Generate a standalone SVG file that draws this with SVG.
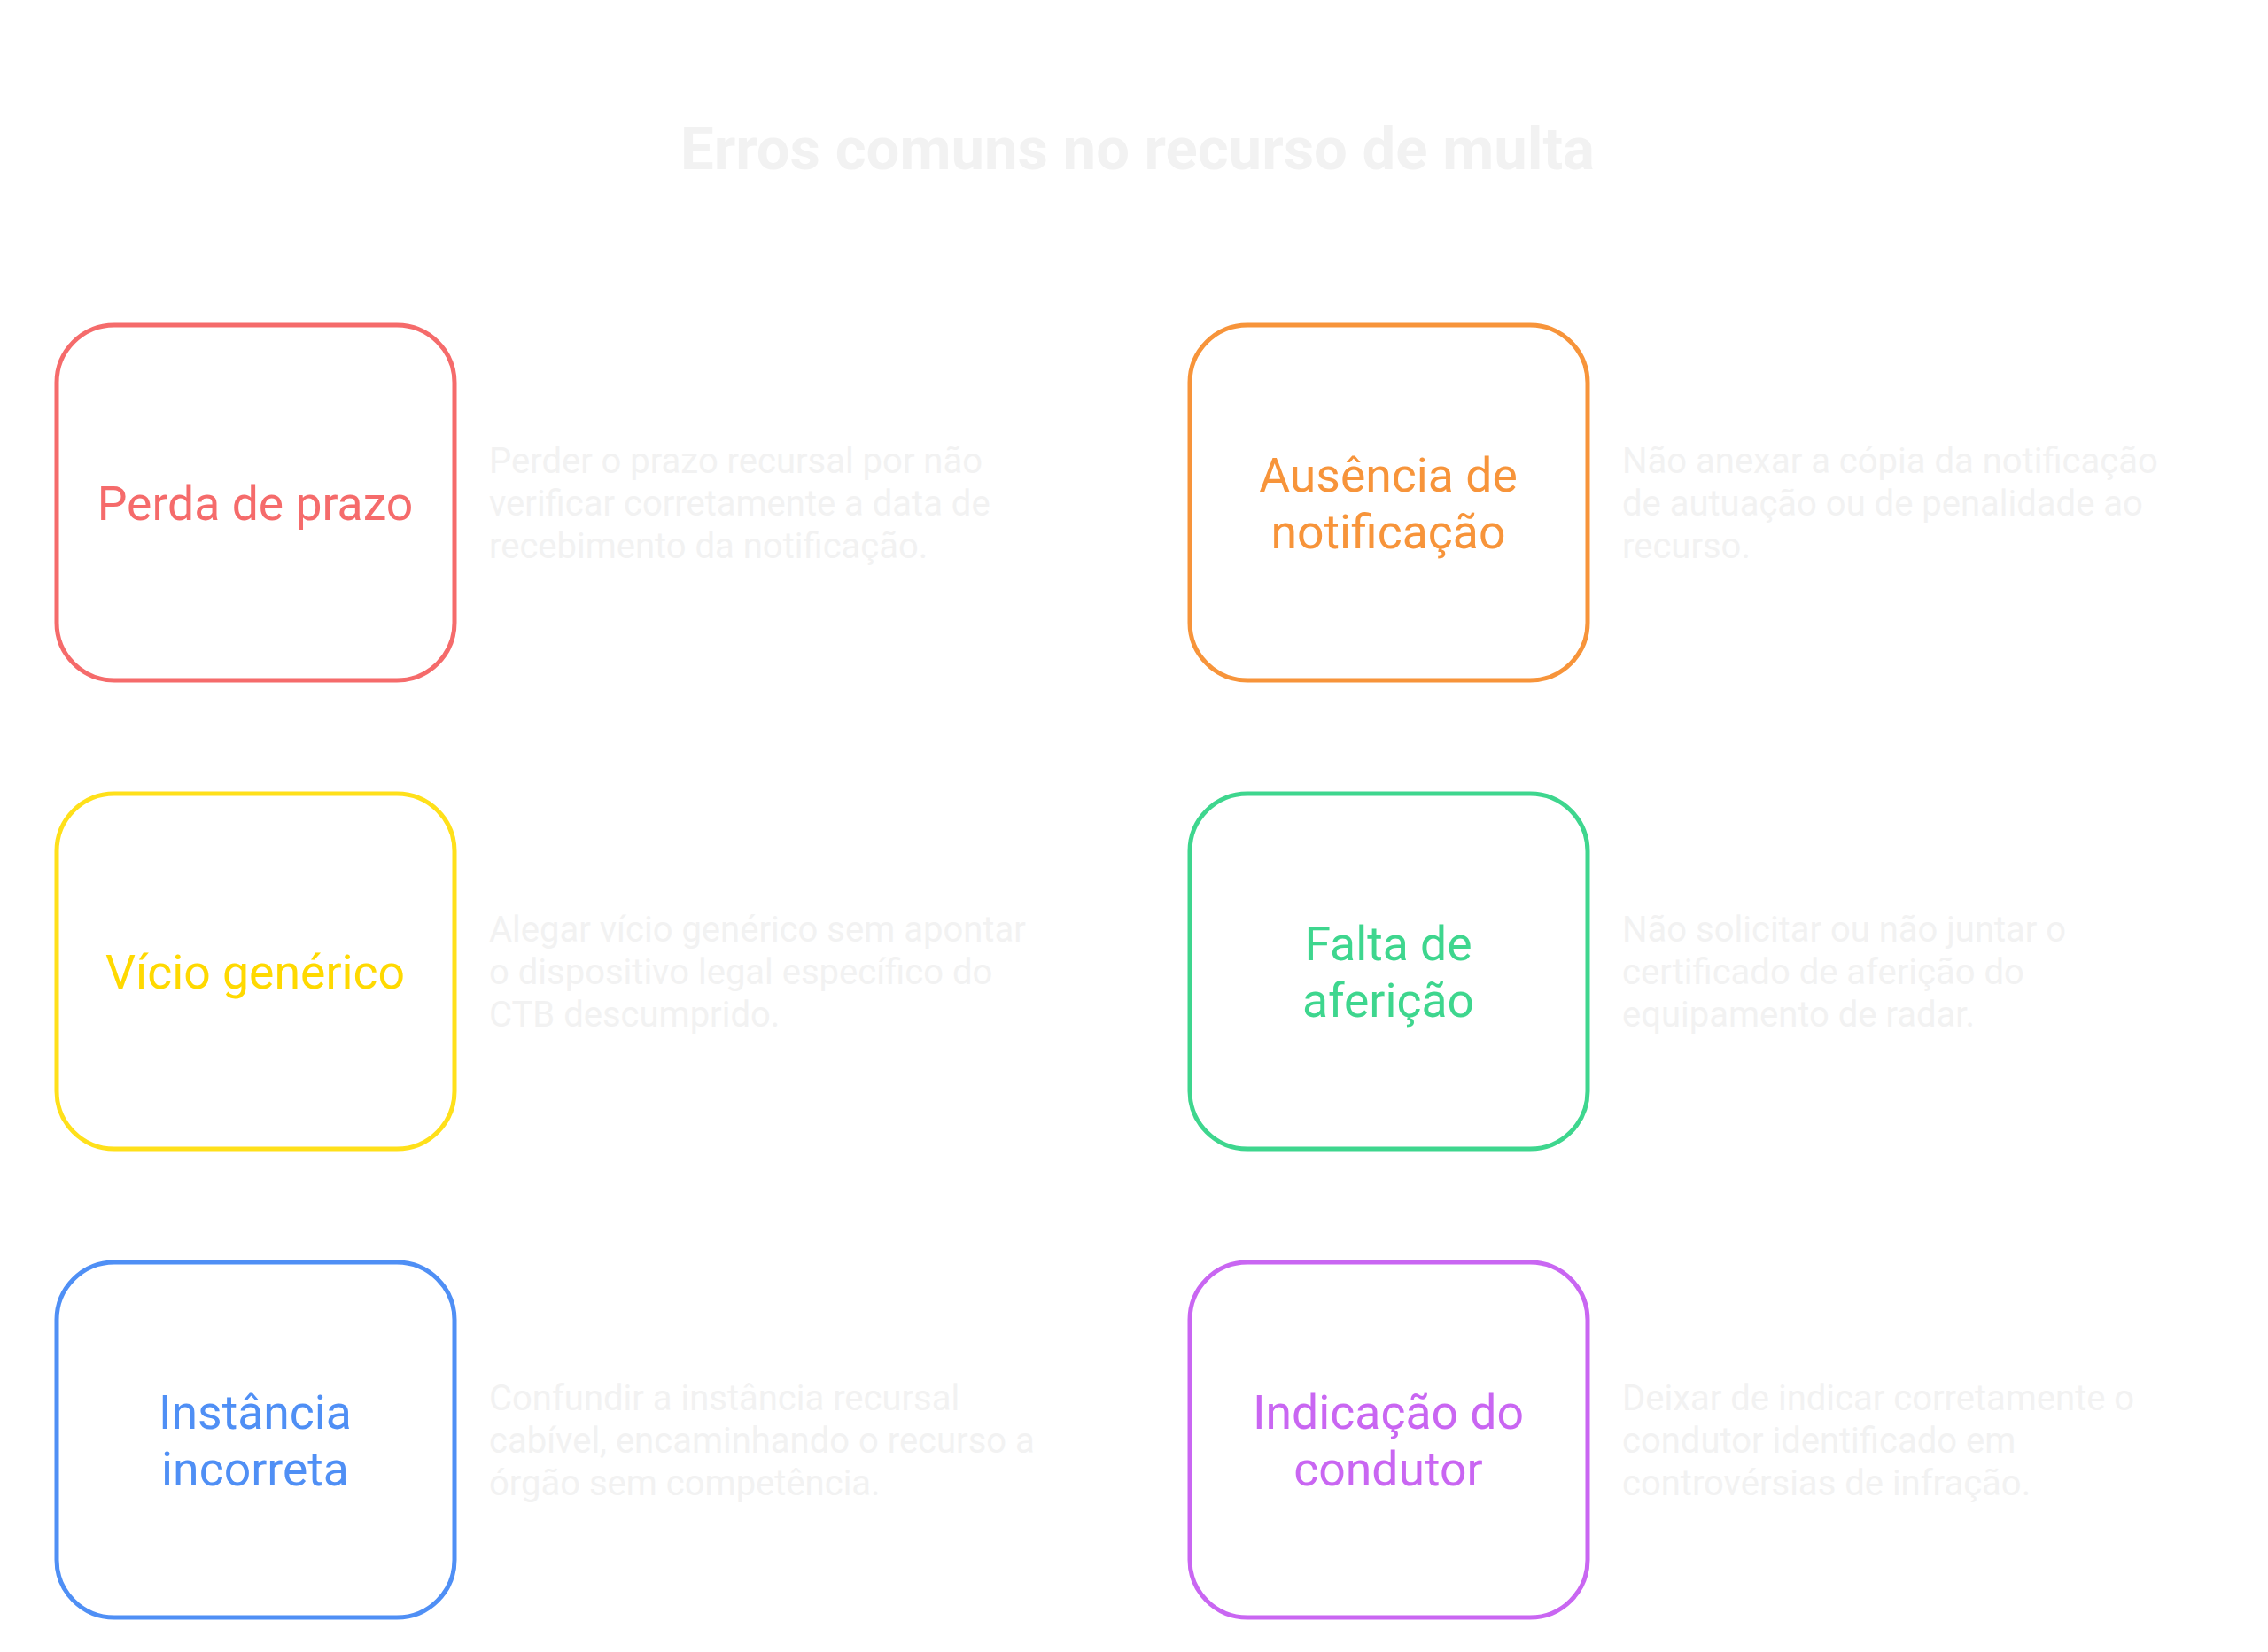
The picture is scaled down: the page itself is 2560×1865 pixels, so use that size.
<svg xmlns="http://www.w3.org/2000/svg" width="2560" height="1865" viewBox="0 0 2560 1865">
<style>
.b{fill:#fff;stroke-width:5}
.l{font-family:Roboto,"Liberation Sans",sans-serif;font-size:53.5px;text-anchor:middle}
.d{font-family:Roboto,"Liberation Sans",sans-serif;font-size:40px;fill:#f2f2f2}
.t{font-family:Roboto,"Liberation Sans",sans-serif;font-size:67px;font-weight:bold;fill:#f2f2f2;text-anchor:middle}
</style>
<rect width="2560" height="1865" fill="#fff"/>
<text class="t" x="1284" y="191">Erros comuns no recurso de multa</text>
<g id="n1"><rect class="b" x="64" y="367" width="449" height="401" rx="65" stroke="#f56b6b"/><text class="l" x="288" y="587" fill="#f56b6b">Perda de prazo</text>
<text class="d" x="552" y="534">Perder o prazo recursal por não</text><text class="d" x="552" y="582">verificar corretamente a data de</text><text class="d" x="552" y="630">recebimento da notificação.</text></g>
<g id="n2"><rect class="b" x="1343" y="367" width="449" height="401" rx="65" stroke="#f7943a"/><text class="l" x="1567" y="555" fill="#f7943a">Ausência de</text><text class="l" x="1567" y="619" fill="#f7943a">notificação</text>
<text class="d" x="1831" y="534">Não anexar a cópia da notificação</text><text class="d" x="1831" y="582">de autuação ou de penalidade ao</text><text class="d" x="1831" y="630">recurso.</text></g>
<g id="n3"><rect class="b" x="64" y="896" width="449" height="401" rx="65" stroke="#ffe01a"/><text class="l" x="288" y="1116" fill="#ffd900">Vício genérico</text>
<text class="d" x="552" y="1063">Alegar vício genérico sem apontar</text><text class="d" x="552" y="1111">o dispositivo legal específico do</text><text class="d" x="552" y="1159">CTB descumprido.</text></g>
<g id="n4"><rect class="b" x="1343" y="896" width="449" height="401" rx="65" stroke="#3ed68e"/><text class="l" x="1567" y="1084" fill="#3ed68e">Falta de</text><text class="l" x="1567" y="1148" fill="#3ed68e">aferição</text>
<text class="d" x="1831" y="1063">Não solicitar ou não juntar o</text><text class="d" x="1831" y="1111">certificado de aferição do</text><text class="d" x="1831" y="1159">equipamento de radar.</text></g>
<g id="n5"><rect class="b" x="64" y="1425" width="449" height="401" rx="65" stroke="#4f8ff5"/><text class="l" x="288" y="1613" fill="#4f8ff5">Instância</text><text class="l" x="288" y="1677" fill="#4f8ff5">incorreta</text>
<text class="d" x="552" y="1592">Confundir a instância recursal</text><text class="d" x="552" y="1640">cabível, encaminhando o recurso a</text><text class="d" x="552" y="1688">órgão sem competência.</text></g>
<g id="n6"><rect class="b" x="1343" y="1425" width="449" height="401" rx="65" stroke="#c966f2"/><text class="l" x="1567" y="1613" fill="#c966f2">Indicação do</text><text class="l" x="1567" y="1677" fill="#c966f2">condutor</text>
<text class="d" x="1831" y="1592">Deixar de indicar corretamente o</text><text class="d" x="1831" y="1640">condutor identificado em</text><text class="d" x="1831" y="1688">controvérsias de infração.</text></g>
<g id="connectors"/>
</svg>
